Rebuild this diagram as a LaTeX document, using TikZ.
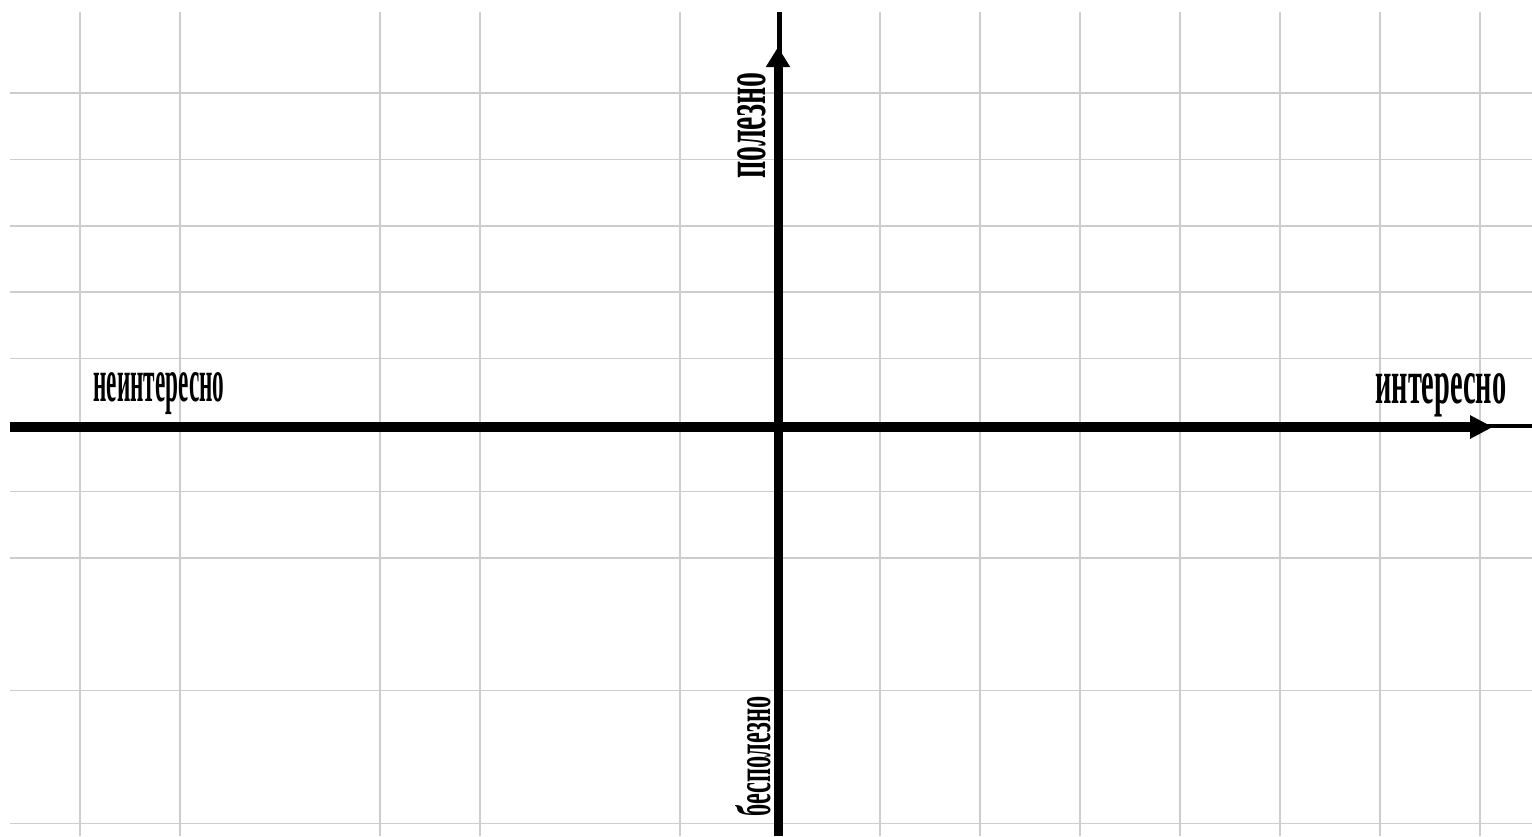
\documentclass[tikz,border=0pt]{standalone}
\usepackage{fontspec}
\setmainfont{Liberation Serif}
\usepackage{xcolor}
\usetikzlibrary{arrows.meta}

\definecolor{gridgray}{RGB}{205,205,205}
\newcommand{\axlbl}[3]{\resizebox{#1}{#2}{\bfseries #3}}

\begin{document}
\begin{tikzpicture}[x=0.02cm, y=-0.02cm, every node/.style={inner sep=0pt}]
  \useasboundingbox (0,0) rectangle (1532,836);
  \fill[white] (0,0) rectangle (1532,836);
  % grid
  \foreach \gx in {80,180,380,480,680,880,980,1080,1180,1280,1380,1480}
    \draw[gridgray, line width=0.03cm] (\gx,12) -- (\gx,836);
  \foreach \gy in {93,159.4,225.8,292.2,358.6,491.4,557.8,690.6,823.4}
    \draw[gridgray, line width=0.03cm] (10,\gy) -- (1532,\gy);
  % axes
  \coordinate (xl) at (10,427);
  \coordinate (xr) at (1493,427);
  \coordinate (xe) at (1532,426);
  \coordinate (yb) at (778,836);
  \coordinate (yt) at (778,47);
  \coordinate (ye) at (779,12);
  \draw[line width=0.09cm] ([xshift=-0.5cm]xr |- xe) -- (xe);
  \draw[line width=0.1cm] ([yshift=-0.5cm]ye |- yt) -- (ye);
  \draw[line width=0.2cm, -{Triangle[length=0.46cm, width=0.44cm]}] (xl) -- (xr);
  \draw[line width=0.18cm, -{Triangle[length=0.4cm, width=0.46cm]}] (yb) -- (yt);
  % labels
  \node[anchor=base west] (neint) at (93,401) {\axlbl{2.62cm}{0.58cm}{неинтересно}};
  \node[anchor=base west] (int) at (1375,403) {\axlbl{2.62cm}{0.6cm}{интересно}};
  \node[anchor=base west, rotate=90] (pol) at (765,179) {\axlbl{2.12cm}{0.56cm}{полезно}};
  \node[anchor=base west, rotate=90] (bespol) at (770,817) {\axlbl{2.4cm}{0.7cm}{бесполезно}};
\end{tikzpicture}
\end{document}
